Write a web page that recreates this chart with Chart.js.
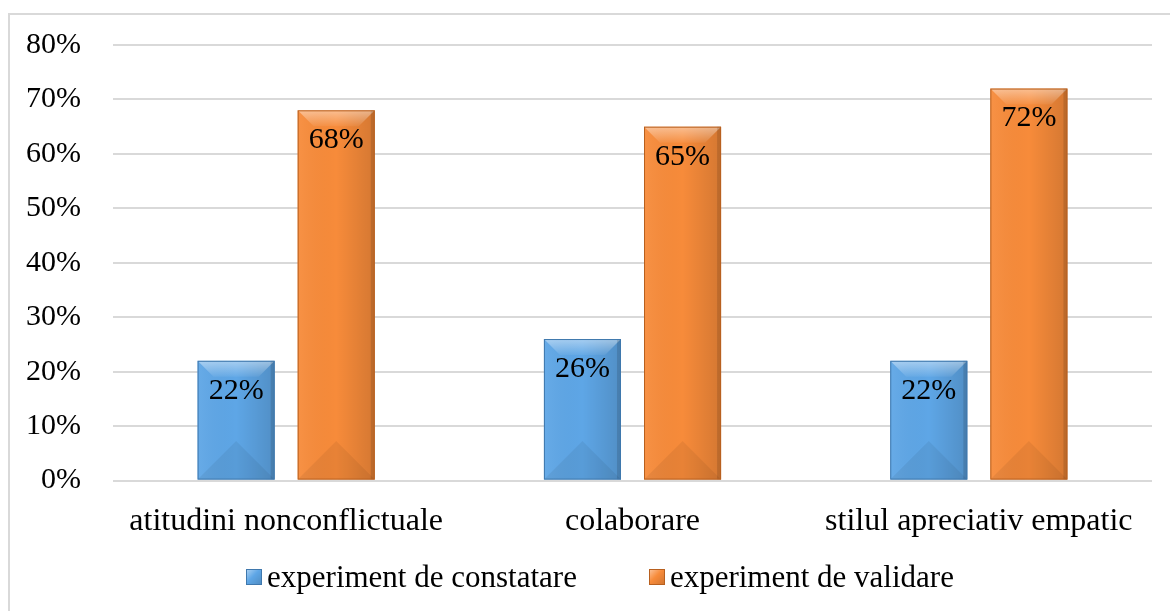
<!DOCTYPE html>
<html><head><meta charset="utf-8">
<script src="https://cdn.jsdelivr.net/npm/chart.js@4"></script>
<style>
html,body{margin:0;padding:0;background:#fff;overflow:hidden;}
#wrap{position:relative;width:1170px;height:611px;}
#frame{position:absolute;left:8px;top:13px;width:1200px;height:640px;border:2px solid #d9d9d9;box-sizing:border-box;}
canvas{position:absolute;left:0;top:0;}
#legend{position:absolute;left:0;width:1200px;top:557px;height:40px;display:flex;justify-content:center;align-items:center;
  font-family:"Liberation Serif","Times New Roman",serif;font-size:31px;color:#000;white-space:nowrap;}
.item{display:flex;align-items:center;}
.item + .item{margin-left:72px;}
.box{width:16px;height:16px;margin-right:5px;box-sizing:border-box;}
</style></head><body>
<div id="wrap"><div id="frame"></div><canvas id="c" width="1170" height="611"></canvas><div id="legend"></div></div>
<script>
const categories = ['atitudini nonconflictuale', 'colaborare', 'stilul apreciativ empatic'];
const seriesNames = ['experiment de constatare', 'experiment de validare'];
const constatare = [22, 26, 22];
const validare = [68, 65, 72];
const yMin = 0, yMax = 80, yStep = 10;

const FONT = '"Liberation Serif", "Times New Roman", serif';
const blue = '#5ea6e6', blueEdge = '#3f78ad';
const orange = '#f78b3a', orangeEdge = '#b8601f';
const colors = [blue, orange], edges = [blueEdge, orangeEdge];

const bevel = {
  id: 'bevel',
  afterDatasetsDraw(chart) {
    const ctx = chart.ctx;
    ctx.save();
    chart.data.datasets.forEach((ds, i) => {
      chart.getDatasetMeta(i).data.forEach((bar, j) => {
        const w = bar.width, l = bar.x - w / 2, r = bar.x + w / 2, t = bar.y, b = bar.base;
        let g = ctx.createLinearGradient(l, 0, r, 0);
        g.addColorStop(0, 'rgba(255,255,255,0.06)');
        g.addColorStop(0.5, 'rgba(0,0,0,0)');
        g.addColorStop(1, 'rgba(0,0,0,0.14)');
        ctx.fillStyle = g; ctx.fillRect(l, t, w, b - t);
        ctx.beginPath(); ctx.moveTo(l, b); ctx.lineTo(r, b); ctx.lineTo(bar.x, b - w / 2); ctx.closePath();
        ctx.fillStyle = 'rgba(0,0,0,0.06)'; ctx.fill();
        const d = 16;
        g = ctx.createLinearGradient(0, t, 0, t + d);
        g.addColorStop(0, 'rgba(255,255,255,0.45)');
        g.addColorStop(1, 'rgba(255,255,255,0.05)');
        ctx.beginPath(); ctx.moveTo(l, t); ctx.lineTo(r, t); ctx.lineTo(r - d, t + d); ctx.lineTo(l + d, t + d); ctx.closePath();
        ctx.fillStyle = g; ctx.fill();
        ctx.fillStyle = 'rgba(0,0,0,0.12)'; ctx.fillRect(r - 4, t, 4, b - t);
        ctx.strokeStyle = edges[i]; ctx.lineWidth = 1;
        ctx.strokeRect(l + 0.5, t + 0.5, w - 1, b - t - 1);
      });
    });
    ctx.font = '30px ' + FONT;
    ctx.fillStyle = '#000'; ctx.textAlign = 'center'; ctx.textBaseline = 'middle';
    chart.data.datasets.forEach((ds, i) => {
      chart.getDatasetMeta(i).data.forEach((bar, j) => {
        ctx.fillText(ds.data[j] + '%', bar.x, bar.y + 30);
      });
    });
    ctx.restore();
  }
};

// HTML legend built from the series names
const legendEl = document.getElementById('legend');
seriesNames.forEach((name, i) => {
  const item = document.createElement('div'); item.className = 'item';
  const box = document.createElement('span'); box.className = 'box';
  box.style.background = 'linear-gradient(135deg, rgba(255,255,255,0.45) 0%, rgba(255,255,255,0) 45%, rgba(0,0,0,0.15) 100%), ' + colors[i];
  box.style.border = '1px solid ' + edges[i];
  const txt = document.createElement('span'); txt.textContent = name;
  item.appendChild(box); item.appendChild(txt); legendEl.appendChild(item);
});

new Chart(document.getElementById('c'), {
  type: 'bar',
  data: {
    labels: categories,
    datasets: [
      { label: seriesNames[0], data: constatare, backgroundColor: blue, borderWidth: 0 },
      { label: seriesNames[1], data: validare, backgroundColor: orange, borderWidth: 0 }
    ]
  },
  options: {
    responsive: false,
    animation: false,
    devicePixelRatio: 1,
    categoryPercentage: 0.578,
    barPercentage: 0.77,
    layout: { padding: { left: 0, right: 18, top: 45, bottom: 56 } },
    plugins: {
      tooltip: { enabled: false },
      legend: { display: false }
    },
    scales: {
      x: {
        grid: { display: false },
        border: { display: false },
        ticks: { font: { family: FONT, size: 32 }, color: '#000', padding: 14, maxRotation: 0, autoSkip: false }
      },
      y: {
        min: yMin, max: yMax,
        afterFit(s) { s.width = 113; s.paddingTop = 0; },
        grid: { color: '#d9d9d9', lineWidth: 2, drawTicks: false },
        border: { display: false },
        ticks: { stepSize: yStep, font: { family: FONT, size: 30 }, color: '#000', padding: 32,
          callback: v => v + '%' }
      }
    }
  },
  plugins: [bevel]
});
</script>
</body></html>
